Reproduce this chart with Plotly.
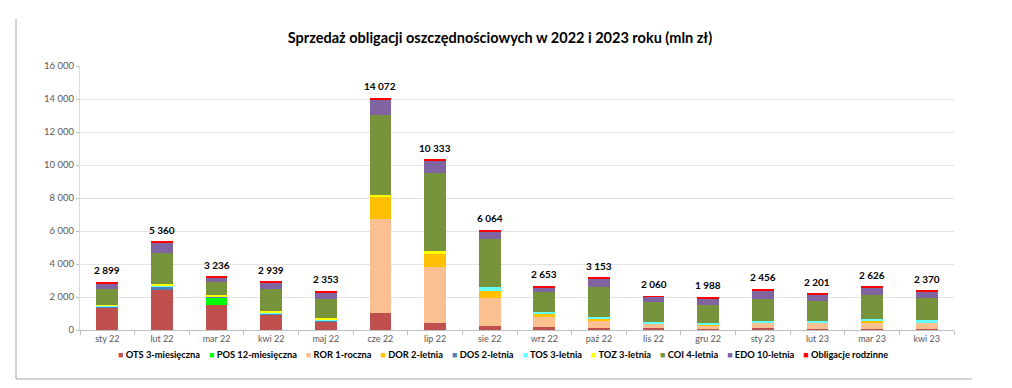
import plotly.graph_objects as go

categories = ["sty 22", "lut 22", "mar 22", "kwi 22", "maj 22", "cze 22", "lip 22", "sie 22",
              "wrz 22", "paź 22", "lis 22", "gru 22", "sty 23", "lut 23", "mar 23", "kwi 23"]

ots = [1340, 2440, 1500, 880, 500, 1013, 426, 263, 200, 120, 100, 80, 120, 80, 80, 60]
pos = [0, 0, 440, 0, 0, 0, 0, 0, 0, 0, 0, 0, 0, 0, 0, 0]
ror = [0, 0, 0, 0, 0, 5716, 3405, 1703, 600, 446, 300, 220, 324, 324, 385, 385]
dor = [0, 0, 0, 0, 0, 1318, 831, 405, 180, 120, 20, 60, 0, 0, 60, 0]
dos = [80, 200, 60, 140, 100, 0, 0, 0, 0, 0, 0, 0, 0, 0, 0, 0]
tos = [40, 40, 40, 40, 40, 0, 0, 223, 120, 80, 60, 60, 120, 142, 162, 162]
toz = [40, 120, 60, 120, 100, 162, 120, 0, 0, 0, 0, 0, 0, 0, 0, 0]
coi = [960, 1860, 800, 1319, 1133, 4810, 4741, 2904, 1209, 1820, 1220, 1083, 1305, 1190, 1454, 1338]
edo = [360, 620, 256, 380, 420, 953, 750, 466, 284, 507, 300, 425, 527, 405, 405, 365]
rodzinne = [79, 80, 80, 60, 60, 100, 60, 100, 60, 60, 60, 60, 60, 60, 80, 60]

totals = [2899, 5360, 3236, 2939, 2353, 14072, 10333, 6064, 2653, 3153, 2060, 1988, 2456, 2201, 2626, 2370]

series_names = ["OTS 3-miesięczna", "POS 12-miesięczna", "ROR 1-roczna", "DOR 2-letnia", "DOS 2-letnia",
                "TOS 3-letnia", "TOZ 3-letnia", "COI 4-letnia", "EDO 10-letnia", "Obligacje rodzinne"]
series_values = [ots, pos, ror, dor, dos, tos, toz, coi, edo, rodzinne]
series_colors = ["#C0504D", "#00FF00", "#FAC090", "#FFC000", "#4F81BD",
                 "#66FFFF", "#FFFF00", "#77933C", "#8064A2", "#FF0000"]

FONT = "Lato"

fig = go.Figure()
for name, vals, col in zip(series_names, series_values, series_colors):
    fig.add_trace(go.Bar(x=categories, y=vals, name=name, marker=dict(color=col, line=dict(width=0)),
                         showlegend=False, hoverinfo="skip"))

# total labels above each stacked bar
for cat, tot in zip(categories, totals):
    fig.add_annotation(x=cat, y=tot, text=f"{tot:,}".replace(",", " "), showarrow=False,
                       yanchor="bottom", yshift=4,
                       font=dict(family=FONT, size=10, color="#000000", weight="bold"))

legend_text = "\u00a0\u00a0\u00a0\u00a0".join(
    f"<span style='color:{c};font-size:9px'>■</span>\u00a0{n}" for n, c in zip(series_names, series_colors))
fig.add_annotation(text=legend_text, xref="paper", yref="paper", x=0.484, y=-0.091,
                   xanchor="center", yanchor="middle", showarrow=False,
                   font=dict(family=FONT, size=9.3, color="#000000", weight="bold"))

# chart frame remnants (left and bottom border)
fig.add_shape(type="line", xref="paper", yref="paper", x0=-0.0732, x1=-0.0732, y0=-0.1856, y1=1.178,
              line=dict(color="#A6A6A6", width=1))
fig.add_shape(type="line", xref="paper", yref="paper", x0=-0.0732, x1=1.0206, y0=-0.1856, y1=-0.1856,
              line=dict(color="#A6A6A6", width=1))

# page body has an 8px margin, so the figure is sized to fit the window
fig.update_layout(
    width=1004, height=380,
    margin=dict(l=72, r=58, t=58, b=58),
    barmode="stack", bargap=0.6,
    paper_bgcolor="white", plot_bgcolor="white",
    separators=", ",
    title=dict(text="<b>Sprzedaż obligacji oszczędnościowych w 2022 i 2023 roku (mln zł)</b>",
               x=0.49, xanchor="center", y=0.921, yanchor="middle",
               font=dict(family=FONT, size=14.5, color="#000000")),
    font=dict(family=FONT, size=9, color="#595959"),
)
fig.update_xaxes(range=[-0.5, 15.5], showline=True, linecolor="#BFBFBF", linewidth=1, ticks="outside",
                 tickson="boundaries", ticklen=4, tickcolor="#BFBFBF",
                 tickfont=dict(family=FONT, size=9, color="#595959"), showgrid=False)
fig.update_yaxes(range=[0, 16000], dtick=2000, tickformat=",d", showline=True, linecolor="#D9D9D9",
                 ticks="outside", ticklen=3, tickcolor="#BFBFBF", gridcolor="#E3E3E3", gridwidth=1,
                 tickfont=dict(family=FONT, size=9.5, color="#595959"), zeroline=False)

fig.write_html("out.html")
